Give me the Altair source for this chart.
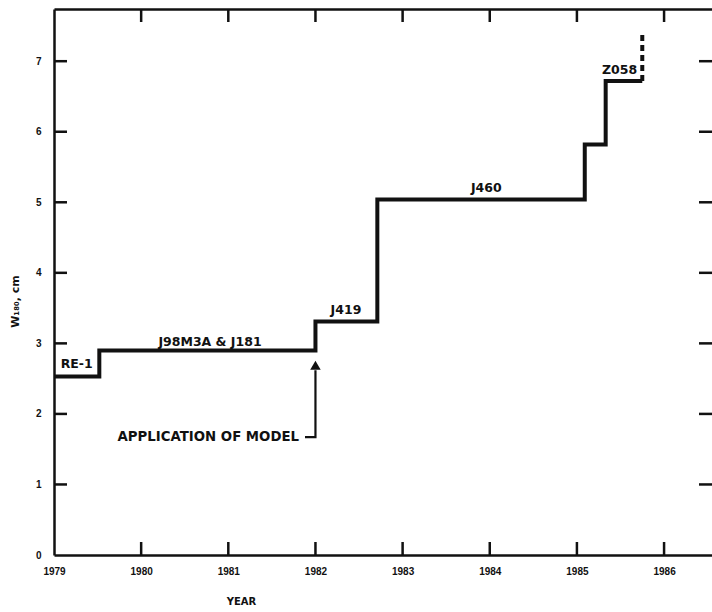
import altair as alt
import pandas as pd

# ---- data ----
step_years = [1979.0, 1979.52, 1982.0, 1982.71, 1985.09, 1985.33, 1985.75]
step_w = [2.53, 2.90, 3.31, 5.04, 5.82, 6.72, 6.72]

dash_years = [1985.75, 1985.75]
dash_w = [6.72, 7.42]

label_text = ["RE-1", "J98M3A & J181", "J419", "J460", "Z058"]
label_years = [1979.26, 1980.79, 1982.35, 1983.96, 1985.49]
label_w = [2.71, 3.02, 3.47, 5.20, 6.88]

note_text = ["APPLICATION OF MODEL"]
note_year = [1980.77]
note_w = [1.67]
bracket_years = [1981.88, 1982.0, 1982.0]
bracket_w = [1.67, 1.67, 2.62]
arrow_year = [1982.0]
arrow_w = [2.69]

x_ticks = [1979, 1980, 1981, 1982, 1983, 1984, 1985, 1986]
y_ticks = [0, 1, 2, 3, 4, 5, 6, 7]
x_min, x_max = 1979.0, 1986.55
y_min, y_max = 0.0, 7.74

FONT = "DejaVu Sans"
TICKFONT = "Liberation Sans"
INK = "#111111"

xs = alt.Scale(domain=[x_min, x_max], nice=False, zero=False)
ys = alt.Scale(domain=[y_min, y_max], nice=False, zero=False)

step_df = pd.DataFrame({"year": step_years, "w": step_w})
dash_df = pd.DataFrame({"year": dash_years, "w": dash_w})
lab_df = pd.DataFrame({"year": label_years, "w": label_w, "t": label_text})
note_df = pd.DataFrame({"year": note_year, "w": note_w, "t": note_text})
br_df = pd.DataFrame({"year": bracket_years, "w": bracket_w, "o": list(range(len(bracket_years)))})
arr_df = pd.DataFrame({"year": arrow_year, "w": arrow_w})

xt_vals = [v for v in x_ticks if v != x_min]
yt_vals = [v for v in y_ticks if v != 0]
xt_df = pd.DataFrame({"year": xt_vals * 2,
                      "w": [y_min] * len(xt_vals) + [y_max] * len(xt_vals)})
yt_df = pd.DataFrame({"w": yt_vals * 2,
                      "year": [x_min] * len(yt_vals) + [x_max] * len(yt_vals)})

x_bottom = alt.X("year:Q", scale=xs, axis=alt.Axis(
    orient="bottom", values=x_ticks, format="d", ticks=False, grid=False,
    domain=True, domainColor=INK, domainWidth=2.5, labelFlush=False,
    labelFont=TICKFONT, labelFontWeight="bold", labelFontSize=10, labelColor=INK,
    labelPadding=11, title="YEAR", titleFont=FONT, titleFontWeight="bold",
    titleFontSize=10, titleColor=INK, titleX=187, titleY=41, titleAnchor="middle"))
y_left = alt.Y("w:Q", scale=ys, axis=alt.Axis(
    orient="left", values=y_ticks, format="d", ticks=False, grid=False,
    domain=True, domainColor=INK, domainWidth=2.5, labelFlush=False,
    labelFont=TICKFONT, labelFontWeight="bold", labelFontSize=10, labelColor=INK,
    labelPadding=13, title="W₁₈₀, cm", titleFont=FONT, titleFontWeight="bold",
    titleFontSize=11, titleColor=INK, titleX=-34, titleY=292))

X0 = alt.X("year:Q", scale=xs, axis=None)
Y0 = alt.Y("w:Q", scale=ys, axis=None)

step = alt.Chart(step_df).mark_line(
    interpolate="step-after", color=INK, strokeWidth=4, strokeJoin="miter"
).encode(x=x_bottom, y=y_left)

top_axis = alt.Chart(step_df).mark_line(opacity=0).encode(
    x=alt.X("year:Q", scale=xs, axis=alt.Axis(
        orient="top", labels=False, ticks=False, grid=False, title=None,
        domain=True, domainColor=INK, domainWidth=2.5)),
    y=Y0)

dash = alt.Chart(dash_df).mark_line(
    color=INK, strokeWidth=4, strokeDash=[6, 4]
).encode(x=X0, y=Y0)

labels = alt.Chart(lab_df).mark_text(
    font=FONT, fontWeight="bold", fontSize=12.5, color=INK
).encode(x=X0, y=Y0, text="t:N")

note = alt.Chart(note_df).mark_text(
    font=FONT, fontWeight="bold", fontSize=13.3, color=INK
).encode(x=X0, y=Y0, text="t:N")

bracket = alt.Chart(br_df).mark_line(color=INK, strokeWidth=2.2).encode(
    x=X0, y=Y0, order="o:Q")

arrow = alt.Chart(arr_df).mark_point(
    shape="triangle-up", filled=True, size=110, color=INK, opacity=1
).encode(x=X0, y=Y0)

xt = alt.Chart(xt_df).mark_tick(
    orient="vertical", size=26, thickness=2.5, color=INK, clip=True, opacity=1
).encode(x=X0, y=Y0)

yt = alt.Chart(yt_df).mark_tick(
    orient="horizontal", size=26, thickness=2.5, color=INK, clip=True, opacity=1
).encode(x=X0, y=Y0)

chart = alt.layer(
    step, top_axis, dash, bracket, arrow, labels, note, xt, yt
).resolve_axis(x="independent", y="independent").properties(
    width=658, height=546,
    autosize=alt.AutoSizeParams(type="none"),
    padding={"left": 54, "top": 9, "right": 0, "bottom": 57},
    background="white",
).configure_view(stroke=None)

chart.save("out.html", embed_options={"renderer": "svg", "actions": False})
